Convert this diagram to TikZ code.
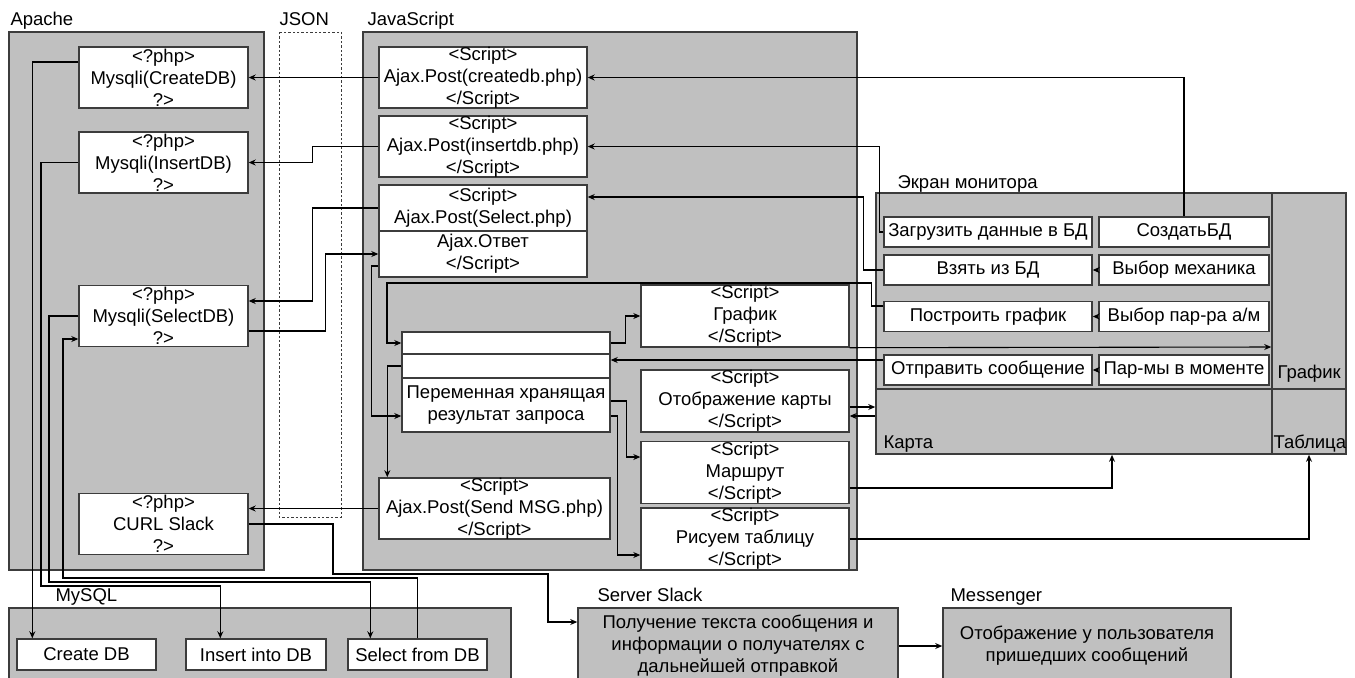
\documentclass[tikz,border=0pt]{standalone}
\usepackage{fontspec}
\setmainfont{Liberation Sans}
\usetikzlibrary{arrows.meta}
\definecolor{panelgray}{RGB}{192,192,192}
\definecolor{edgegray}{RGB}{60,60,60}
\newcommand\diagfont{\fontsize{9.25}{11}\selectfont}
\tikzset{
  frame/.style={draw=edgegray, fill=panelgray, line width=0.8pt},
  box/.style={draw=edgegray, fill=white, line width=0.7pt, inner sep=0pt, align=center, font=\diagfont},
  lbl/.style={inner sep=0pt, anchor=base west, font=\diagfont},
}
\begin{document}
\begin{tikzpicture}[x=0.5pt, y=-0.5pt, >={Stealth[length=3.5pt,width=3pt]}, line width=0.55pt]
\useasboundingbox (0,0) rectangle (1355,677);
\draw[frame] (9,32) rectangle (264,570);
\draw[frame] (363,32) rectangle (857,570);
\draw[frame] (9,608) rectangle (511,690);
\draw[frame] (876,193) rectangle (1346,454);
\draw[edgegray, line width=0.5pt, dash pattern=on 1.2pt off 1pt] (279,32) rectangle (341,517);
\node[lbl] (apachelbl) at (10,25) {Apache};
\node[lbl] (jsonlbl) at (279,25) {JSON};
\node[lbl] (jslbl) at (367,25) {JavaScript};
\node[lbl] (screenlbl) at (897,188) {Экран монитора};
\node[lbl] (mysqllbl) at (55,601) {MySQL};
\node[lbl] (slacklbl) at (597,601) {Server Slack};
\node[lbl] (messlbl) at (950,601) {Messenger};

\foreach \n/\y/\t in {createphp/77.5/CreateDB, insertphp/162.5/InsertDB, selectphp/316/SelectDB}
  \node[box, minimum width=84.5pt, minimum height=30.5pt] (\n) at (163.5,\y) {<?php>\\Mysqli(\t)\\?>};
\node[box, minimum width=84.5pt, minimum height=30.5pt] (curlphp) at (163.5,524) {<?php>\\CURL Slack\\?>};

\node[box, minimum width=104pt, minimum height=30.5pt] (createjs) at (483,77.5) {<Script>\\Ajax.Post(createdb.php)\\</Script>};
\node[box, minimum width=104pt, minimum height=30.5pt] (insertjs) at (483,146.5) {<Script>\\Ajax.Post(insertdb.php)\\</Script>};
\node[box, minimum width=104pt, minimum height=23pt] (selectjs) at (483,208) {<Script>\\Ajax.Post(Select.php)};
\node[box, minimum width=104pt, minimum height=23pt] (selectans) at (483,254) {Ajax.Ответ\\</Script>};
\node[box, minimum width=115.5pt, minimum height=30.5pt] (sendjs) at (494.5,508.5) {<Script>\\Ajax.Post(Send MSG.php)\\</Script>};

\node[box, minimum width=104pt, minimum height=11pt] (varA) at (506,343) {};
\node[box, minimum width=104pt, minimum height=12pt] (varB) at (506,366) {};
\node[box, minimum width=104pt, minimum height=27pt] (varC) at (506,405) {Переменная хранящая\\результат запроса};

\foreach \n/\y/\t in {grafjs/316/График, mapjs/401/Отображение карты, routejs/472.5/Маршрут, tablejs/539/Рисуем таблицу}
  \node[box, minimum width=104pt, minimum height=31pt] (\n) at (745,\y) {<Script>\\\t\\</Script>};

\foreach \n/\y/\t in {load/232/Загрузить данные в БД, take/270/Взять из БД, plot/316.5/Построить график, send/370/Отправить сообщение}
  \node[box, minimum width=104pt, minimum height=15pt] (\n) at (988,\y) {\t};
\node[box, minimum width=85pt, minimum height=15pt] (create) at (1184,232) {СоздатьБД};
\node[box, minimum width=85pt, minimum height=15pt] (mech) at (1184,270) {Выбор механика};
\node[box, minimum width=85pt, minimum height=15pt] (param) at (1184,316.5) {Выбор пар-ра а/м};
\node[box, minimum width=85pt, minimum height=15pt] (moment) at (1184,370) {Пар-мы в моменте};

\node[frame, inner sep=0pt, minimum width=198pt, minimum height=32.5pt] (karta) at (1074,421.5) {};
\node[frame, inner sep=0pt, minimum width=37pt, minimum height=32.5pt] (tablepanel) at (1309,421.5) {};
\node[frame, inner sep=0pt, minimum width=37pt, minimum height=98pt] (grafpanel) at (1309,291) {};
\node[lbl] (kartalbl) at (883,448) {Карта};
\node[lbl] (tablelbl) at (1273,448) {Таблица};
\node[lbl] (graflbl) at (1277,378) {График};

\node[box, minimum width=69.5pt, minimum height=15.5pt] (cdb) at (86.5,654.5) {Create DB};
\node[box, minimum width=70pt, minimum height=15.5pt] (idb) at (256,654.5) {Insert into DB};
\node[box, minimum width=69.5pt, minimum height=15.5pt] (sdb) at (417.5,654.5) {Select from DB};

\node[frame, inner sep=0pt, minimum width=160pt, minimum height=38pt, align=center, font=\diagfont] (server) at (738,646) {Получение текста сообщения и\\информации о получателях с\\дальнейшей отправкой};
\node[frame, inner sep=0pt, minimum width=144pt, minimum height=38pt, align=center, font=\diagfont] (messenger) at (1087,646) {Отображение у пользователя\\пришедших сообщений};

\draw[->] (createjs.west) -- (createphp.east);
\draw[->] (insertjs.west) -- ++(-66,0) |- (insertphp.east);
\draw[->] (selectjs.west) -- ++(-66,0) |- ([yshift=7.5pt]selectphp.east);
\draw[->] ([yshift=-7.5pt]selectphp.east) -- ++(77,0) |- (selectans.west);
\draw[->] (sendjs.west) -- (sendjs.west -| curlphp.east);
\draw[->] (curlphp.east) -| (333,574) -| (548,622) -- ([yshift=12pt]server.west);
\draw[->] ([yshift=7.75pt]createphp.west) -| ([xshift=8pt]cdb.north west);
\draw[->] (insertphp.west) -| (41,586) -| ([xshift=17.5pt]idb.north west);
\draw[->] (selectphp.west) -| (49,582) -| ([xshift=11.5pt]sdb.north west);
\draw[->] (sdb.north) |- (63,578) |- ([yshift=-11.5pt]selectphp.west);

\draw[->] ([yshift=-6pt]selectans.west) -- ++(-7,0) |- ([yshift=-5.5pt]varC.west);
\draw[->] ([yshift=5.25pt]plot.west) -- ++(-12,0) |- (387,283) |- (varA.west);
\draw[->] (varA.east) -- ++(15,0) |- (grafjs.west);
\draw[->] ([yshift=5pt]send.west) -- ([yshift=3pt]varB.east);
\draw[->] (varB.west) -| ([xshift=4.5pt]sendjs.north west);
\draw[->] ([yshift=2pt]varC.east) -- ++(16,0) |- ([yshift=7.75pt]routejs.west);
\draw[->] ([yshift=-5.5pt]varC.east) -- ++(7,0) |- ([yshift=-8pt]tablejs.west);

\draw[->] ([yshift=-3pt]mapjs.east) -- ([yshift=7.25pt]karta.west);
\draw[->] ([yshift=2.75pt]karta.west) -- ([yshift=-7.5pt]mapjs.east);
\draw[->] (grafjs.south east) -- ([yshift=-28pt]grafpanel.west);
\draw[->] ([yshift=-7.75pt]routejs.east) -| ([xshift=19pt]karta.south);
\draw[->] (tablejs.east) -| (tablepanel.south);

\draw[->] (create.north) |- (createjs.east);
\draw[->] (load.west) -- ++(-4,0) |- (insertjs.east);
\draw[->] (take.west) -- ++(-20,0) |- ([yshift=5.5pt]selectjs.east);
\draw[->] (mech.west) -- (take.east);
\draw[->] (param.west) -- (plot.east);
\draw[->] (moment.west) -- (send.east);
\draw[->] (server.east) -- (messenger.west);
\end{tikzpicture}
\end{document}
